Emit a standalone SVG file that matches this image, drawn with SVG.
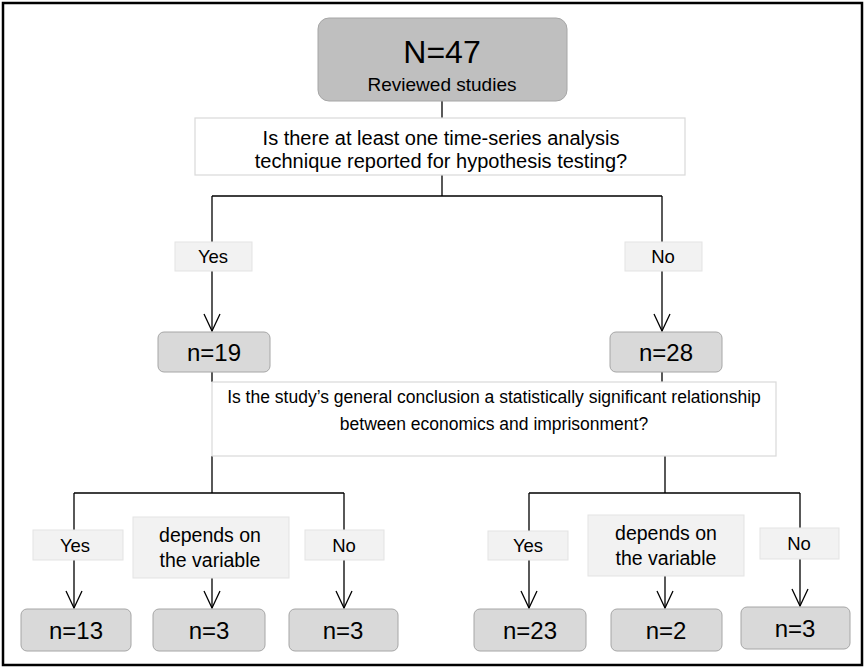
<svg xmlns="http://www.w3.org/2000/svg" width="866" height="670" viewBox="0 0 866 670">
<defs>
<style>
text{font-family:"Liberation Sans",Arial,sans-serif;fill:#000;text-anchor:middle}
.q{fill:#fff;stroke:#d9d9d9;stroke-width:1.2}
.lbl{fill:#f2f2f2;stroke:#e3e3e3;stroke-width:1}
.n{fill:#d9d9d9;stroke:#a6a6a6;stroke-width:1}
.top{fill:#bfbfbf;stroke:#a6a6a6;stroke-width:1}
.c{fill:none;stroke:#000;stroke-width:1.3}
.t1{font-size:20px}
.t2{font-size:17.5px}
.tl{font-size:18.5px}
.td{font-size:19.5px}
.tn{font-size:24px}
</style>
<marker id="arr" markerUnits="userSpaceOnUse" markerWidth="20" markerHeight="20" viewBox="-18 -10 20 20" refX="0" refY="0" orient="auto">
<path d="M-17,-8 L0,0 L-17,8" fill="none" stroke="#000" stroke-width="1.3"/>
</marker>
</defs>
<rect x="3" y="3" width="859" height="662" fill="#fff" stroke="#000" stroke-width="2.5"/>

<g id="connectors">
<path class="c" d="M442,101 V118"/>
<path class="c" d="M442,175 V196 M212,196 H662"/>
<path class="c" d="M212,196 V242"/>
<path class="c" d="M212,271 V331" marker-end="url(#arr)"/>
<path class="c" d="M662,196 V242"/>
<path class="c" d="M662,271 V331" marker-end="url(#arr)"/>
<path class="c" d="M212,372 V382 M662,372 V382"/>
<path class="c" d="M212,456 V493 M74,493 H344 M665,456 V493 M529,493 H800"/>
<path class="c" d="M74,493 V530 M74,560 V608" marker-end="url(#arr)"/>
<path class="c" d="M212,578 V608" marker-end="url(#arr)"/>
<path class="c" d="M344,493 V530 M344,560 V608" marker-end="url(#arr)"/>
<path class="c" d="M529,493 V531 M529,560 V608" marker-end="url(#arr)"/>
<path class="c" d="M665,576 V608" marker-end="url(#arr)"/>
<path class="c" d="M800,493 V528 M800,559 V606" marker-end="url(#arr)"/>
</g>

<g id="n47">
<rect class="top" x="318" y="18" width="249" height="83" rx="11"/>
<text x="442" y="63" font-size="32">N=47</text>
<text x="442" y="91" font-size="19">Reviewed studies</text>
</g>

<g id="q1">
<rect class="q" x="195" y="118" width="490" height="57"/>
<text x="441" y="145" class="t1">Is there at least one time-series analysis</text>
<text x="441" y="168" class="t1">technique reported for hypothesis testing?</text>
</g>

<g id="yes1">
<rect class="lbl" x="175" y="242" width="77" height="29"/>
<text x="213" y="263" class="tl">Yes</text>
</g>
<g id="no1">
<rect class="lbl" x="625" y="242" width="77" height="29"/>
<text x="663" y="263" class="tl">No</text>
</g>

<g id="n19">
<rect class="n" x="158" y="332" width="112" height="40" rx="6"/>
<text x="214" y="361" class="tn">n=19</text>
</g>
<g id="n28">
<rect class="n" x="610" y="332" width="112" height="40" rx="6"/>
<text x="666" y="361" class="tn">n=28</text>
</g>

<g id="q2">
<rect class="q" x="212" y="382" width="564" height="74"/>
<text x="494" y="403" class="t2">Is the study’s general conclusion a statistically significant relationship</text>
<text x="494" y="430" class="t2">between economics and imprisonment?</text>
</g>

<g id="yes2a">
<rect class="lbl" x="33" y="530" width="90" height="30"/>
<text x="75" y="552" class="tl">Yes</text>
</g>
<g id="dep2a">
<rect class="lbl" x="133" y="517" width="156" height="61"/>
<text x="210" y="542" class="td">depends on</text>
<text x="210" y="567" class="td">the variable</text>
</g>
<g id="no2a">
<rect class="lbl" x="305" y="530" width="79" height="30"/>
<text x="344" y="552" class="tl">No</text>
</g>
<g id="yes2b">
<rect class="lbl" x="488" y="531" width="80" height="29"/>
<text x="528" y="552" class="tl">Yes</text>
</g>
<g id="dep2b">
<rect class="lbl" x="588" y="515" width="156" height="61"/>
<text x="666" y="540" class="td">depends on</text>
<text x="666" y="565" class="td">the variable</text>
</g>
<g id="no2b">
<rect class="lbl" x="760" y="528" width="79" height="31"/>
<text x="799" y="550" class="tl">No</text>
</g>

<g id="n13">
<rect class="n" x="21" y="609" width="110" height="42" rx="6"/>
<text x="76" y="639" class="tn">n=13</text>
</g>
<g id="n3a">
<rect class="n" x="153" y="609" width="112" height="42" rx="6"/>
<text x="209" y="639" class="tn">n=3</text>
</g>
<g id="n3b">
<rect class="n" x="289" y="609" width="109" height="42" rx="6"/>
<text x="343" y="639" class="tn">n=3</text>
</g>
<g id="n23">
<rect class="n" x="474" y="609" width="112" height="42" rx="6"/>
<text x="530" y="639" class="tn">n=23</text>
</g>
<g id="n2">
<rect class="n" x="611" y="609" width="111" height="42" rx="6"/>
<text x="666" y="639" class="tn">n=2</text>
</g>
<g id="n3c">
<rect class="n" x="741" y="607" width="109" height="42" rx="6"/>
<text x="795" y="637" class="tn">n=3</text>
</g>
</svg>
